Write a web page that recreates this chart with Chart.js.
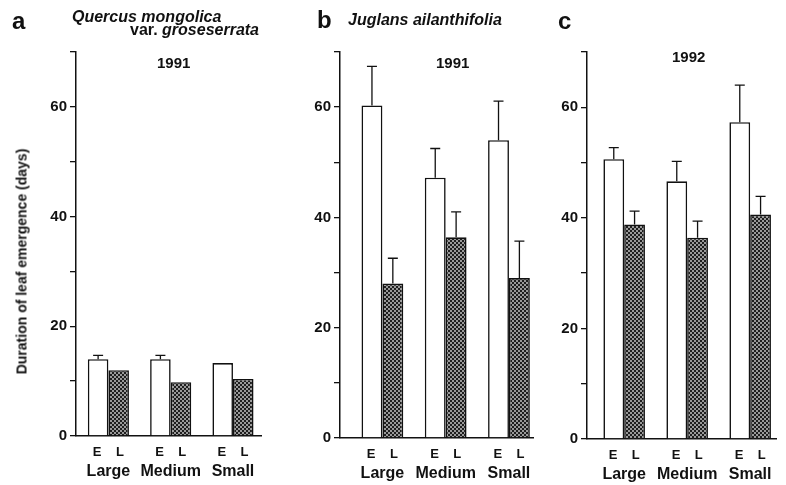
<!DOCTYPE html>
<html>
<head>
<meta charset="utf-8">
<script src="https://cdn.jsdelivr.net/npm/chart.js@4/dist/chart.umd.min.js"></script>
<style>
  body { margin: 0; background: #fff; }
  #wrap { position: relative; width: 786px; height: 485px; overflow: hidden;
          font-family: "Liberation Sans", Arial, sans-serif; color: #111; }
  .box { position: absolute; top: 0; height: 485px; }
  .txt { position: absolute; font-weight: bold; line-height: 1; white-space: nowrap; }
  .letter { font-size: 24px; }
  .sp { font-size: 16px; font-style: italic; }
  .yr { font-size: 15px; }
  #ytitle { position: absolute; left: -108px; top: 254px; width: 260px; text-align: center;
            font-size: 14px; font-weight: bold; line-height: 15px; transform: rotate(-90deg); }
</style>
</head>
<body>
<div id="wrap">
  <div class="box" style="left:0;width:272px"><canvas id="chartA"></canvas></div>
  <div class="box" style="left:290px;width:250px"><canvas id="chartB"></canvas></div>
  <div class="box" style="left:540px;width:246px"><canvas id="chartC"></canvas></div>

  <div class="txt letter" style="left:12px;top:9px">a</div>
  <div class="txt sp" style="left:72px;top:9px">Quercus mongolica</div>
  <div class="txt sp" style="right:527px;top:22px"><span style="font-style:normal">var.</span> groseserrata</div>
  <div class="txt yr" style="left:157px;top:55px">1991</div>

  <div class="txt letter" style="left:317px;top:8px">b</div>
  <div class="txt sp" style="left:348px;top:12px">Juglans ailanthifolia</div>
  <div class="txt yr" style="left:436px;top:55px">1991</div>

  <div class="txt letter" style="left:558px;top:9px">c</div>
  <div class="txt yr" style="left:672px;top:49px">1992</div>

  <div id="ytitle">Duration of leaf emergence (days)</div>
</div>

<script>
// tree size classes and leaf types (E = early, L = late)
const groups = ["Large", "Medium", "Small"];
const leafLabel = "E    L";

// a: Quercus mongolica var. grosseserrata, 1991
const quercusE = [14.0, 14.0, 13.3];
const quercusEErr = [0.7, 0.7, 0];
const quercusL = [12.0, 9.8, 10.4];
const quercusLErr = [0, 0, 0];

// b: Juglans ailanthifolia, 1991
const juglans91E = [60.3, 47.2, 54.0];
const juglans91EErr = [7.1, 5.3, 7.1];
const juglans91L = [28.0, 36.4, 29.0];
const juglans91LErr = [4.6, 4.6, 6.7];

// c: Juglans ailanthifolia, 1992
const juglans92E = [50.6, 46.6, 57.3];
const juglans92EErr = [2.1, 3.6, 6.7];
const juglans92L = [38.8, 36.4, 40.6];
const juglans92LErr = [2.4, 3.0, 3.3];

const yTicks = [0, 20, 40, 60];
const FONT = "'Liberation Sans', Arial, sans-serif";

function stipple() {
  const c = document.createElement("canvas");
  c.width = c.height = 4;
  const g = c.getContext("2d");
  g.fillStyle = "#999";
  g.fillRect(0, 0, 4, 4);
  g.fillStyle = "#1e1e1e";
  g.fillRect(0, 0, 2, 2);
  g.fillRect(2, 2, 2, 2);
  return g.createPattern(c, "repeat");
}
const darkFill = stipple();

// upward-only error bars with a cap
const errorBars = {
  id: "errorBars",
  afterDatasetsDraw(chart) {
    const ctx = chart.ctx;
    const y = chart.scales.y;
    chart.data.datasets.forEach((ds, di) => {
      chart.getDatasetMeta(di).data.forEach((bar, i) => {
        const err = ds.errors[i];
        if (!err) return;
        const top = y.getPixelForValue(ds.data[i] + err);
        ctx.save();
        ctx.strokeStyle = "#111";
        ctx.lineWidth = 1.3;
        ctx.beginPath();
        ctx.moveTo(bar.x, bar.y);
        ctx.lineTo(bar.x, top);
        ctx.moveTo(bar.x - 5, top);
        ctx.lineTo(bar.x + 5, top);
        ctx.stroke();
        ctx.restore();
      });
    });
  }
};

function makeChart(id, eVals, eErr, lVals, lErr, xMin, xMax, pad) {
  const xCommon = {
    type: "linear",
    min: xMin,
    max: xMax,
    offset: false,
    grid: { display: false, drawTicks: false },
    afterBuildTicks: s => { s.ticks = groups.map((g, i) => ({ value: i })); }
  };
  return new Chart(document.getElementById(id), {
    type: "bar",
    data: {
      labels: groups.map((g, i) => i),
      datasets: [
        {
          label: "E",
          data: eVals,
          errors: eErr,
          backgroundColor: "#fff",
          borderColor: "#111",
          borderWidth: 1.6
        },
        {
          label: "L",
          data: lVals,
          errors: lErr,
          backgroundColor: darkFill,
          borderColor: "#111",
          borderWidth: 1.6
        }
      ]
    },
    options: {
      responsive: true,
      maintainAspectRatio: false,
      animation: false,
      categoryPercentage: 0.66,
      barPercentage: 1,
      layout: { padding: pad },
      plugins: { legend: { display: false }, tooltip: { enabled: false } },
      scales: {
        x: Object.assign({}, xCommon, {
          weight: 0,
          border: { display: true, color: "#111", width: 1.5 },
          ticks: {
            padding: 9,
            color: "#111",
            font: { family: FONT, size: 13, weight: "bold" },
            callback: () => leafLabel
          },
          afterFit: s => { s.height = 22; }
        }),
        x2: Object.assign({}, xCommon, {
          position: "bottom",
          weight: 1,
          border: { display: false },
          ticks: {
            padding: 4,
            color: "#111",
            font: { family: FONT, size: 16, weight: "bold" },
            callback: (v, i) => groups[i]
          },
          afterFit: s => { s.height = 26; }
        }),
        y: {
          min: 0,
          max: 70,
          border: { display: true, color: "#111", width: 1.5 },
          grid: { drawOnChartArea: false, drawTicks: true, tickLength: 6, color: "#111", lineWidth: 1.3 },
          ticks: {
            stepSize: 10,
            padding: 3,
            color: "#111",
            font: { family: FONT, size: 15, weight: "bold" },
            callback: v => yTicks.includes(v) ? v : ""
          },
          afterFit: s => { s.width = 40; }
        }
      }
    },
    plugins: [errorBars]
  });
}

makeChart("chartA", quercusE, quercusEErr, quercusL, quercusLErr, -0.52, 2.45,
  { left: 36, right: 11, top: 52, bottom: 1 });
makeChart("chartB", juglans91E, juglans91EErr, juglans91L, juglans91LErr, -0.67, 2.38,
  { left: 10, right: 7, top: 52, bottom: -1 });
makeChart("chartC", juglans92E, juglans92EErr, juglans92L, juglans92LErr, -0.59, 2.41,
  { left: 7, right: 10, top: 52, bottom: -2 });
</script>
</body>
</html>
